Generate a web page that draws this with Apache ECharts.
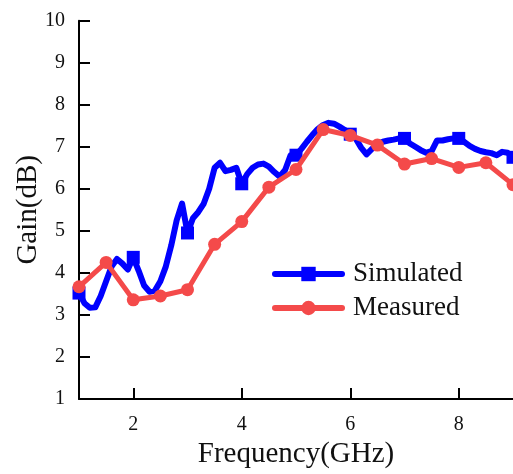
<!DOCTYPE html>
<html>
<head>
<meta charset="utf-8">
<script src="https://cdn.jsdelivr.net/npm/echarts@6/dist/echarts.min.js"></script>
<style>html,body{margin:0;padding:0;background:#fff}#c{width:513px;height:474px}</style>
</head>
<body>
<div id="c"></div>
<script>
var simFreq = [1.0,1.1,1.2,1.3,1.4,1.5,1.6,1.7,1.8,1.9,
  2.0,2.1,2.2,2.3,2.4,2.5,2.6,2.7,2.8,2.9,
  3.0,3.1,3.2,3.3,3.4,3.5,3.6,3.7,3.8,3.9,
  4.0,4.1,4.2,4.3,4.4,4.5,4.6,4.7,4.8,4.9,
  5.0,5.1,5.2,5.3,5.4,5.5,5.6,5.7,5.8,5.9,
  6.0,6.1,6.2,6.3,6.4,6.5,6.6,6.7,6.8,6.9,
  7.0,7.1,7.2,7.3,7.4,7.5,7.6,7.7,7.8,7.9,
  8.0,8.1,8.2,8.3,8.4,8.5,8.6,8.7,8.8,8.9,9.0];
var simGain = [3.52,3.28,3.17,3.18,3.45,3.80,4.15,4.33,4.22,4.08,
  4.37,4.05,3.70,3.55,3.58,3.80,4.15,4.65,5.25,5.65,
  4.95,5.30,5.45,5.65,6.00,6.50,6.62,6.42,6.45,6.50,
  6.12,6.35,6.50,6.58,6.60,6.53,6.40,6.29,6.45,6.80,
  6.80,6.95,7.12,7.28,7.42,7.52,7.57,7.55,7.48,7.40,
  7.30,7.20,6.98,6.82,6.95,7.07,7.12,7.15,7.17,7.20,
  7.20,7.08,7.00,6.92,6.86,6.90,7.15,7.15,7.18,7.20,
  7.20,7.12,7.02,6.95,6.90,6.87,6.85,6.80,6.88,6.86,6.75];
var simMarkerFreq = [1,2,3,4,5,6,7,8,9];

var measFreq = [1,1.5,2,2.5,3,3.5,4,4.5,5,5.5,6,6.5,7,7.5,8,8.5,9];
var measGain = [3.67,4.25,3.36,3.45,3.60,4.68,5.22,6.04,6.46,7.41,7.27,7.04,6.59,6.72,6.51,6.62,6.10];

var xTickValues = [2,4,6,8];
var yTickValues = [1,2,3,4,5,6,7,8,9,10];

var FONT = "Liberation Serif";
function zip(a,b){return a.map(function(v,i){return [v,b[i]];});}

var chart = echarts.init(document.getElementById('c'));
chart.setOption({
  animation:false,
  backgroundColor:'#fff',
  textStyle:{fontFamily:FONT},
  grid:{left:79,right:-2,top:20.7,bottom:70.7,containLabel:false},
  xAxis:{
    type:'value',min:1,max:9,interval:1,
    name:'Frequency(GHz)',nameLocation:'middle',nameGap:41,
    nameTextStyle:{fontFamily:FONT,fontSize:29,color:'#111'},
    axisLine:{show:true,lineStyle:{color:'#000',width:2}},
    axisTick:{show:true,inside:true,length:11,lineStyle:{color:'#000',width:2},customValues:xTickValues},
    axisLabel:{show:false},
    splitLine:{show:false}
  },
  yAxis:{
    type:'value',min:1,max:10,interval:1,
    name:'Gain(dB)',nameLocation:'middle',nameGap:36,nameRotate:90,
    nameTextStyle:{fontFamily:FONT,fontSize:29,color:'#111'},
    axisLine:{show:true,lineStyle:{color:'#000',width:2}},
    axisTick:{show:true,inside:true,length:11,lineStyle:{color:'#000',width:2}},
    axisLabel:{show:false},
    splitLine:{show:false}
  },
  legend:{
    orient:'vertical',left:267,top:252,itemWidth:67,itemHeight:18,itemGap:0,
    textStyle:{fontFamily:FONT,fontSize:27,color:'#111',lineHeight:34,padding:[0,0,0,6]},
    data:[
      {name:'Simulated',lineStyle:{width:6,cap:'round',color:'#0000ff'}},
      {name:'Measured',lineStyle:{width:6,cap:'round',color:'#f44a4a'}}
    ]
  },
  series:[
    {
      name:'Simulated',type:'line',data:zip(simFreq,simGain),
      color:'#0000ff',symbol:'rect',showAllSymbol:true,
      symbolSize:function(v){return simMarkerFreq.indexOf(v[0])>=0?13:0;},
      lineStyle:{width:6,color:'#0000ff',join:'round',cap:'round'},
      itemStyle:{color:'#0000ff'},z:2
    },
    {
      name:'Measured',type:'line',data:zip(measFreq,measGain),
      color:'#f44a4a',symbol:'circle',symbolSize:13,showAllSymbol:true,
      lineStyle:{width:5,color:'#f44a4a',join:'round',cap:'round'},
      itemStyle:{color:'#f44a4a'},z:3
    }
  ]
});

// tick labels placed through the chart's own scales
var labels = [];
yTickValues.forEach(function(v){
  var p = chart.convertToPixel({gridIndex:0},[1,v]);
  labels.push({type:'text',x:p[0]-14,y:p[1],silent:true,
    style:{text:String(v),fill:'#111',fontFamily:FONT,fontSize:20,
      align:'right',textAlign:'right',verticalAlign:'middle',textVerticalAlign:'middle'}});
});
xTickValues.forEach(function(v){
  var p = chart.convertToPixel({gridIndex:0},[v,1]);
  labels.push({type:'text',x:p[0],y:p[1]+16,silent:true,
    style:{text:String(v),fill:'#111',fontFamily:FONT,fontSize:20,
      align:'center',textAlign:'center',verticalAlign:'top',textVerticalAlign:'top'}});
});
chart.setOption({graphic:{elements:labels}});
</script>
</body>
</html>
